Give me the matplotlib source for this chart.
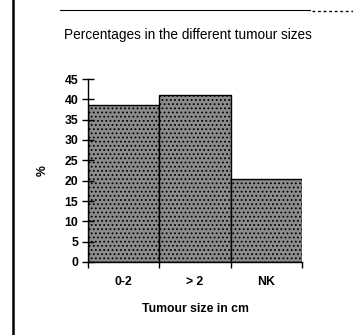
import matplotlib
matplotlib.use("Agg")
import matplotlib.pyplot as plt
from matplotlib.lines import Line2D

categories = ["0-2", "> 2", "NK"]
percentages = [38.5, 41.0, 20.5]
yticks = [0, 5, 10, 15, 20, 25, 30, 35, 40, 45]

plt.rcParams["font.family"] = ["Liberation Sans", "DejaVu Sans"]
plt.rcParams["hatch.color"] = "#e8e8e8"
plt.rcParams["hatch.linewidth"] = 0.8

fig = plt.figure(figsize=(3.53, 3.35), dpi=100)
ax = fig.add_axes([88 / 353, 1 - 262 / 335, (302 - 88) / 353, (262 - 79) / 335])

x = list(range(len(categories)))
ax.bar(x, percentages, width=1.0, color="#8c8c8c", edgecolor="black",
       linewidth=1.0, hatch="....", align="center")

ax.set_xlim(-0.5, len(categories) - 0.5)
ax.set_ylim(0, 45)
ax.set_yticks(yticks)
ax.set_yticklabels([str(t) for t in yticks], fontsize=8.8, fontweight="bold")
ax.tick_params(axis="y", direction="inout", length=8, width=1, pad=3)

# category boundaries carry the ticks; labels sit between them
ax.set_xticks([i - 0.5 for i in range(len(categories) + 1)])
ax.set_xticklabels([""] * (len(categories) + 1))
ax.tick_params(axis="x", direction="out", length=4, width=1)
for i, c in enumerate(categories):
    ax.text(i, -5, c, ha="center", va="center", fontsize=8.8, fontweight="bold")

for s in ["top", "right"]:
    ax.spines[s].set_visible(False)
ax.spines["left"].set_linewidth(1)
ax.spines["bottom"].set_linewidth(1)

ax.set_xlabel("Tumour size in cm", fontsize=8.8, fontweight="bold", labelpad=22)
ax.set_ylabel("%", fontsize=8.8, fontweight="bold", labelpad=11)

fig.text(188 / 353, 1 - 35 / 335, "Percentages in the different tumour sizes",
         ha="center", va="center", fontsize=9.8)

# page frame strokes
fig.add_artist(Line2D([13 / 353, 13 / 353], [0, 1], color="black", linewidth=1.8))
fig.add_artist(Line2D([60 / 353, 310 / 353], [1 - 10 / 335, 1 - 10 / 335],
                      color="black", linewidth=0.8))
fig.add_artist(Line2D([312 / 353, 353 / 353], [1 - 11 / 335, 1 - 11 / 335],
                      color="black", linewidth=1.0, linestyle=(0, (2, 2))))

fig.savefig("out.png", dpi=100)
